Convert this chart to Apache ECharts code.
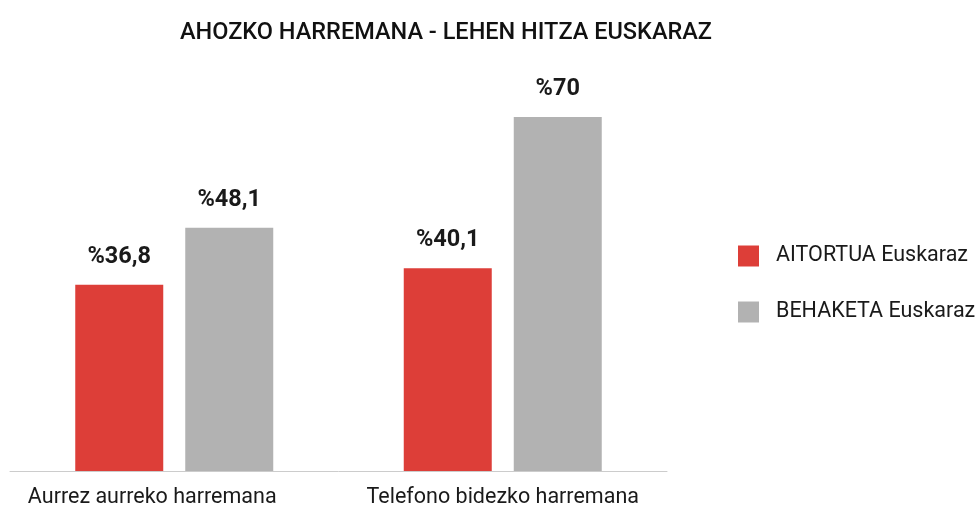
<!DOCTYPE html>
<html>
<head>
<meta charset="utf-8">
<script src="https://cdn.jsdelivr.net/npm/echarts@6/dist/echarts.min.js"></script>
<style>html,body{margin:0;padding:0;background:#fff}#c{width:975px;height:509px}</style>
</head>
<body>
<div id="c"></div>
<script>
var titleText = 'AHOZKO HARREMANA - LEHEN HITZA EUSKARAZ';
var categories = ['Aurrez aurreko harremana', 'Telefono bidezko harremana'];
var seriesNames = ['AITORTUA Euskaraz', 'BEHAKETA Euskaraz'];
var aitortua = [36.8, 40.1];
var behaketa = [48.1, 70];

var chart = echarts.init(document.getElementById('c'), null, {renderer: 'canvas'});
var labelStyle = {
  show: true, position: 'top', distance: 16,
  fontFamily: 'Roboto', fontWeight: 'bold', fontSize: 23.5, color: '#1a1a1a',
  formatter: function (p) { return '%' + String(p.value).replace('.', ','); }
};
chart.setOption({
  animation: false,
  textStyle: {fontFamily: 'Roboto'},
  title: {
    text: titleText, left: 441, textAlign: 'center', top: 16,
    textStyle: {fontFamily: 'Roboto', fontWeight: 500, fontSize: 23.5, color: '#111'}
  },
  legend: {
    orient: 'vertical', left: 733, top: 240,
    itemWidth: 21, itemHeight: 21, itemGap: 34,
    icon: 'rect',
    data: seriesNames,
    textStyle: {fontFamily: 'Roboto', fontSize: 21.5, color: '#1a1a1a', padding: [0, 0, 0, 12]}
  },
  grid: {left: 10, right: 308, top: 66.3, bottom: 37, containLabel: false},
  xAxis: {
    type: 'category', data: categories,
    axisLine: {lineStyle: {color: '#cccccc', width: 1}},
    axisTick: {show: false},
    axisLabel: {
      interval: 0, hideOverlap: false,
      fontFamily: 'Roboto', fontSize: 21.5, color: '#1a1a1a', margin: 16,
      formatter: function (v, i) { return i === 0 ? '{s|' + v + '}' : v; },
      rich: {s: {fontFamily: 'Roboto', fontSize: 21.5, color: '#1a1a1a', padding: [0, 44, 0, 0]}}
    }
  },
  yAxis: {type: 'value', min: 0, max: 80, show: false, splitLine: {show: false}},
  series: [
    {name: seriesNames[0], type: 'bar', data: aitortua, barWidth: 88, barGap: '25%',
     itemStyle: {color: '#dd3e38'}, label: labelStyle},
    {name: seriesNames[1], type: 'bar', data: behaketa, barWidth: 88, barGap: '25%',
     itemStyle: {color: '#b2b2b2'}, label: labelStyle}
  ]
});
</script>
</body>
</html>
